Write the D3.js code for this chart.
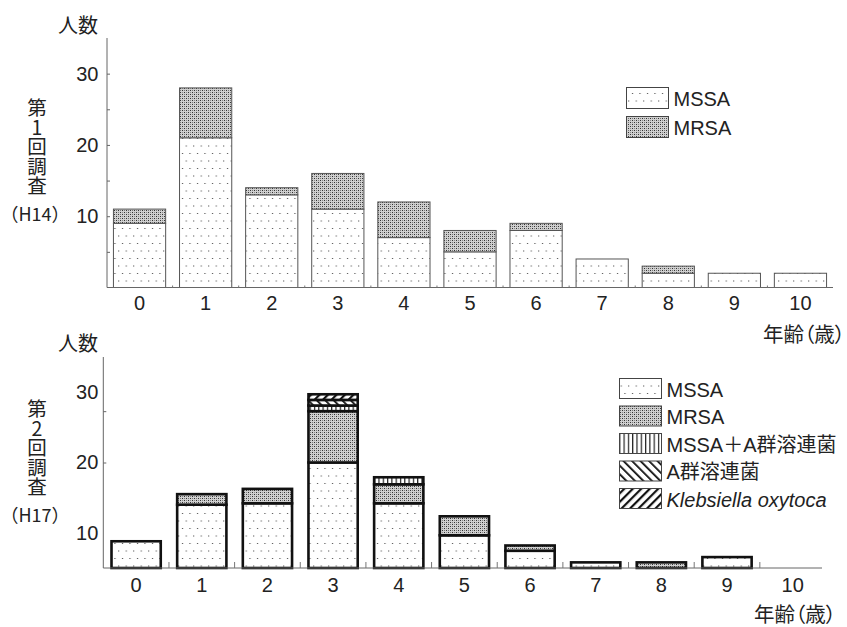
<!DOCTYPE html>
<html><head><meta charset="utf-8">
<script src="https://cdn.jsdelivr.net/npm/d3@7"></script>
<style>
body{margin:0;background:#fff;}
svg{display:block;}
text{font-family:"Liberation Sans","Noto Sans CJK JP",sans-serif;fill:#222;}
.cjk{font-family:"Noto Sans CJK JP","Liberation Sans",sans-serif;}
.vert{writing-mode:vertical-rl;text-orientation:upright;}
.palt{font-feature-settings:"palt" 1;}
</style></head>
<body>
<svg id="chart" width="847" height="627"></svg>
<script>
// ---------------- data ----------------
const ages = ["0","1","2","3","4","5","6","7","8","9","10"];
// First survey (H14)
const mssa1 = [9,21,13,11,7,5,8,4,2,2,2];
const mrsa1 = [2,7,1,5,5,3,1,0,1,0,0];
// Second survey (H17) – read against the printed axis labels
const mssa2   = [8.8,14.0,14.2,20.0,14.2,9.65,7.45,5.8,0,6.55,0];
const mrsa2   = [0,1.5,2.05,7.3,2.7,2.7,0.75,0,5.8,0,0];
const mssaA2  = [0,0,0,0.8,1.0,0,0,0,0,0,0];
const strepA2 = [0,0,0,0.8,0,0,0,0,0,0,0];
const kleb2   = [0,0,0,0.8,0,0,0,0,0,0,0];
const yLabels = [10,20,30];
const yMinor1 = [5,10,15,20,25,30];
const yMinor2 = [20,27.3];
const legend1 = ["MSSA","MRSA"];
const legend2 = ["MSSA","MRSA","MSSA＋A群溶連菌","A群溶連菌","Klebsiella oxytoca"];
const side1 = ["第1回調査","（H14）"];
const side2 = ["第2回調査","（H17）"];
const yTitle = "人数";
const xTitle = "年齢（歳）";

// ---------------- setup ----------------
const svg = d3.select("#chart");
const defs = svg.append("defs");
function pat(id, w, h, fn, transform){
  const p = defs.append("pattern").attr("id",id).attr("patternUnits","userSpaceOnUse")
    .attr("width",w).attr("height",h);
  if (transform) p.attr("patternTransform",transform);
  fn(p);
}
pat("pMSSA",7.5,15,p=>{
  p.append("rect").attr("width",7.5).attr("height",15).attr("fill","#fff");
  p.append("rect").attr("x",2).attr("y",3).attr("width",1).attr("height",1).attr("fill","#333");
  p.append("rect").attr("x",5.75).attr("y",10.5).attr("width",1).attr("height",1).attr("fill","#333");
});
pat("pMRSA",4,4,p=>{
  p.append("rect").attr("width",4).attr("height",4).attr("fill","#d0d0d0");
  p.append("rect").attr("x",0).attr("y",0).attr("width",1).attr("height",1).attr("fill","#333");
  p.append("rect").attr("x",2).attr("y",2).attr("width",1).attr("height",1).attr("fill","#333");
  p.append("rect").attr("x",0).attr("y",2).attr("width",1).attr("height",1).attr("fill","#777");
  p.append("rect").attr("x",2).attr("y",0).attr("width",1).attr("height",1).attr("fill","#888");
});
pat("pVert",4.3,4,p=>{
  p.append("rect").attr("width",4.3).attr("height",4).attr("fill","#fff");
  p.append("rect").attr("x",0).attr("width",1.2).attr("height",4).attr("fill","#222");
});
pat("pBack",6,6,p=>{
  p.append("rect").attr("width",6).attr("height",6).attr("fill","#fff");
  p.append("rect").attr("x",0).attr("width",1.8).attr("height",6).attr("fill","#111");
},"rotate(-45)");
pat("pFwd",6,6,p=>{
  p.append("rect").attr("width",6).attr("height",6).attr("fill","#fff");
  p.append("rect").attr("x",0).attr("width",2.2).attr("height",6).attr("fill","#111");
},"rotate(45)");

const fills1 = ["url(#pMSSA)","url(#pMRSA)"];
const fills2 = ["url(#pMSSA)","url(#pMRSA)","url(#pVert)","url(#pBack)","url(#pFwd)"];

function drawPanel(cfg){
  const g = svg.append("g");
  const x = d3.scaleBand().domain(ages).range(cfg.xr).paddingInner(cfg.pad).paddingOuter(cfg.pad/2);
  const y = d3.scaleLinear().domain(cfg.yd).range(cfg.yr).clamp(true);
  const rows = ages.map((a,i)=>{ const o={age:a}; cfg.keys.forEach((k,j)=>o[k]=cfg.series[j][i]); return o; });
  const stacked = d3.stack().keys(cfg.keys)(rows);

  // bars
  stacked.forEach((layer,j)=>{
    g.append("g").selectAll("rect").data(layer.filter(d=>d[1]-d[0]>0)).join("rect")
      .attr("x",d=>x(d.data.age)).attr("width",x.bandwidth())
      .attr("y",d=>y(d[1])).attr("height",d=>y(d[0])-y(d[1]))
      .attr("fill",cfg.fills[j]).attr("stroke",cfg.stroke).attr("stroke-width",cfg.sw);
  });

  // y axis line + minor ticks
  const yAxisG = g.append("g").attr("transform",`translate(${cfg.xr[0]+cfg.axOff},0)`)
    .call(d3.axisRight(y).tickValues(cfg.minor).tickSize(3).tickFormat(""));
  yAxisG.select(".domain").attr("stroke","#666").attr("d",`M0,${cfg.yr[0]}V${cfg.yr[1]}`);
  yAxisG.selectAll(".tick line").attr("stroke","#666");
  // y labels
  const yLab = g.append("g").attr("transform",`translate(${cfg.xr[0]+cfg.axOff},0)`)
    .call(d3.axisLeft(y).tickValues(yLabels).tickSize(0).tickPadding(cfg.lblPad).tickFormat(d3.format("d")));
  yLab.select(".domain").remove();
  yLab.selectAll("text").attr("font-size",20).attr("fill","#222").style("font-family","Liberation Sans");

  // x axis
  const xAxisG = g.append("g").attr("transform",`translate(0,${cfg.yr[0]})`)
    .call(d3.axisBottom(x).tickSize(0).tickPadding(cfg.xPad));
  xAxisG.select(".domain").attr("stroke","#666").attr("d",`M${cfg.xr[0]+cfg.axOff},0H${cfg.xEnd}`);
  xAxisG.selectAll("text").attr("font-size",20).attr("fill","#222").style("font-family","Liberation Sans");
  // band-boundary ticks
  g.append("g").selectAll("line").data(ages.slice(1)).join("line")
    .attr("x1",d=>x(d)-x.step()*x.paddingInner()/2).attr("x2",d=>x(d)-x.step()*x.paddingInner()/2)
    .attr("y1",cfg.yr[0]).attr("y2",cfg.yr[0]-cfg.bt)
    .attr("stroke","#777").attr("stroke-width",1);

  // titles
  g.append("text").attr("class","cjk").attr("x",58).attr("y",cfg.yTitleY)
    .attr("font-size",20).attr("dominant-baseline","central").text(yTitle);
  g.append("text").attr("class","cjk palt").attr("x",cfg.xTitleX).attr("y",cfg.xTitleY)
    .attr("text-anchor","end").attr("font-size",20.5).attr("dominant-baseline","central").text(xTitle);
  // side label: vertical part + horizontal era
  g.append("text").attr("class","cjk vert").attr("x",37).attr("y",cfg.sideY)
    .attr("font-size",19.5).text(cfg.side[0]);
  g.append("text").attr("class","cjk").attr("x",35).attr("y",cfg.sideY+115)
    .attr("text-anchor","middle").attr("dominant-baseline","central").attr("font-size",18)
    .text(cfg.side[1]);

  // legend
  const lg = g.append("g");
  cfg.legend.forEach((name,i)=>{
    const yy = cfg.lgY + i*cfg.lgStep;
    lg.append("rect").attr("x",cfg.lgX).attr("y",yy).attr("width",cfg.lgW).attr("height",cfg.lgH)
      .attr("fill",cfg.fills[i]).attr("stroke","#444").attr("stroke-width",1);
    lg.append("text").attr("x",cfg.lgX+cfg.lgW+5).attr("y",yy+cfg.lgH/2+1)
      .attr("dominant-baseline","central").attr("font-size",20)
      .attr("font-style", name.startsWith("Klebsiella") ? "italic" : "normal")
      .text(name);
  });
}

drawPanel({
  keys:["mssa","mrsa"], series:[mssa1,mrsa1], fills:fills1,
  xr:[106.5,833.5], pad:0.21, yd:[0,35], yr:[287.5,38], axOff:0.5,
  minor:yMinor1, lblPad:8.5, xPad:8, xEnd:833, bt:2,
  stroke:"#555", sw:1,
  yTitleY:24, xTitleX:845, xTitleY:333, side:side1, sideY:98,
  legend:legend1, lgX:626.5, lgY:87.5, lgStep:29, lgW:42, lgH:21
});
drawPanel({
  keys:["mssa","mrsa","mssaA","strepA","kleb"], series:[mssa2,mrsa2,mssaA2,strepA2,kleb2], fills:fills2,
  xr:[103.3,825.5], pad:0.25, yd:[5,35], yr:[568,357], axOff:0,
  minor:yMinor2, lblPad:5, xPad:10, xEnd:822, bt:6,
  stroke:"#111", sw:2.6,
  yTitleY:342, xTitleX:836, xTitleY:613, side:side2, sideY:399,
  legend:legend2, lgX:619.5, lgY:378.5, lgStep:27.5, lgW:42, lgH:20
});
</script>
</body></html>
